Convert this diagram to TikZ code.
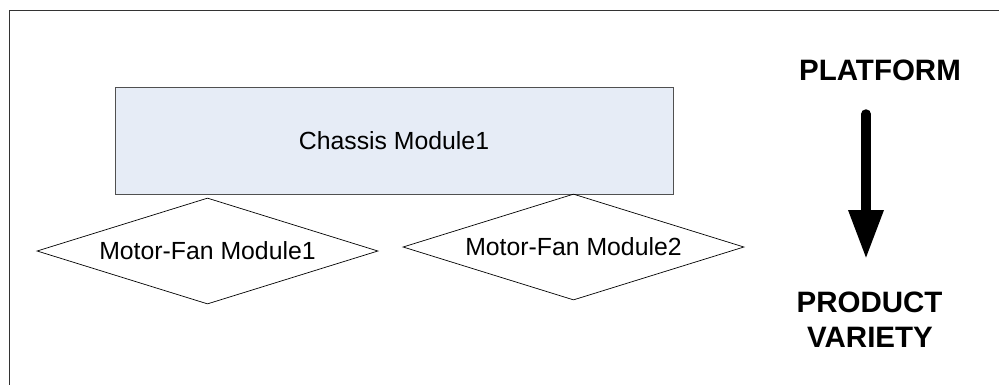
\documentclass[tikz,border=0pt]{standalone}
\usepackage{fontspec}
\setmainfont{Liberation Sans}
\usetikzlibrary{shapes.geometric,arrows.meta}
\definecolor{modfill}{RGB}{230,236,246}
\definecolor{modline}{RGB}{80,80,80}
\begin{document}
\begin{tikzpicture}[x=1pt,y=-1pt,
  frameline/.style={draw=black!80,line width=0.9pt},
  chassisbox/.style={rectangle,draw=modline,fill=modfill,line width=0.9pt,
    minimum width=558pt,minimum height=107pt,inner sep=0pt,
    font=\fontsize{24.8pt}{29pt}\selectfont},
  fanbox/.style={diamond,draw=black,line width=0.7pt,aspect=3.2,
    minimum width=341pt,minimum height=106pt,inner sep=0pt,
    font=\fontsize{24.8pt}{29pt}\selectfont},
  biglabel/.style={anchor=base,inner sep=0pt,
    font=\fontsize{29.5pt}{35pt}\selectfont\bfseries},
  flowarrow/.style={line width=9.5pt,line cap=round,
    -{Triangle[width=33pt,length=49pt]}}]
  \useasboundingbox (0,0) rectangle (999,384);
  % outer frame (continues past the right and bottom edges)
  \draw[frameline] (9,390) -- (9,10) -- (1005,10);
  % platform module
  \node[chassisbox] (chassis) at (394,140.5) {Chassis Module1};
  % variant modules
  \node[fanbox] (fan1) at (207.5,251) {Motor-Fan Module1};
  \node[fanbox] (fan2) at (573.5,247) {Motor-Fan Module2};
  % platform-to-variety scale
  \node[biglabel] (platform) at (880,80) {PLATFORM};
  \node[biglabel] (product) at (869.5,312) {PRODUCT};
  \node[biglabel] (variety) at (870,347) {VARIETY};
  \coordinate (arrtop) at (866,114);
  \coordinate (arrtip) at (866,259);
  \draw[flowarrow] (arrtop) -- (arrtip);
\end{tikzpicture}
\end{document}
